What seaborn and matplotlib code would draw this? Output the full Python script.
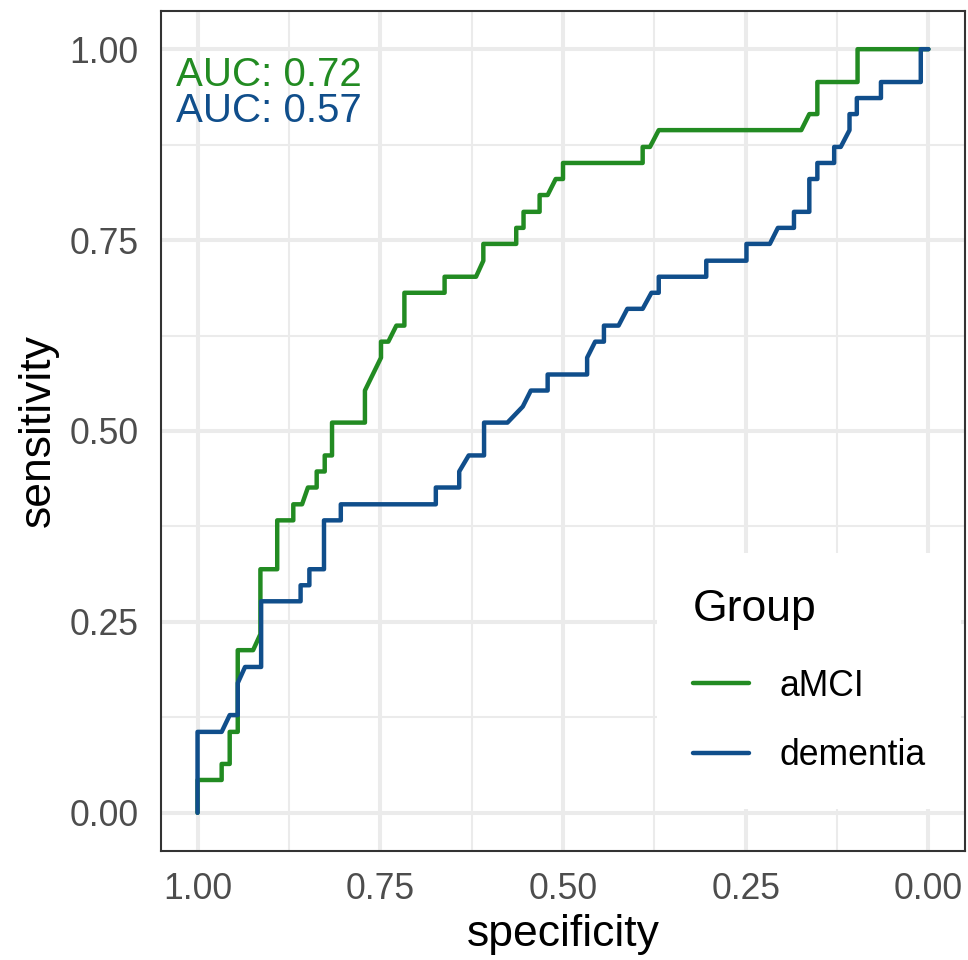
import numpy as np
import pandas as pd
import matplotlib
matplotlib.use("Agg")
import matplotlib.pyplot as plt
from matplotlib.ticker import MultipleLocator
import seaborn as sns

# ==========================================
# Datos (curvas ROC)
# ==========================================
groups = ["aMCI", "dementia"]
auc_values = [0.72, 0.57]
colors = ["#228B22", "#104E8B"]

amci_spec = [1.000, 1.000, 0.967, 0.967, 0.956, 0.956, 0.945, 0.945, 0.924, 0.914,
             0.914, 0.891, 0.891, 0.869, 0.869, 0.857, 0.849, 0.837, 0.837, 0.826,
             0.826, 0.816, 0.816, 0.771, 0.771, 0.749, 0.749, 0.739, 0.728, 0.717,
             0.717, 0.662, 0.662, 0.619, 0.609, 0.609, 0.564, 0.564, 0.554, 0.554,
             0.532, 0.532, 0.521, 0.510, 0.500, 0.500, 0.391, 0.391, 0.381, 0.369,
             0.174, 0.163, 0.152, 0.152, 0.097, 0.097, 0.000]
amci_sens = [0.000, 0.043, 0.043, 0.064, 0.064, 0.106, 0.106, 0.213, 0.213, 0.234,
             0.319, 0.319, 0.383, 0.383, 0.404, 0.404, 0.426, 0.426, 0.447, 0.447,
             0.468, 0.468, 0.511, 0.511, 0.553, 0.596, 0.617, 0.617, 0.638, 0.638,
             0.681, 0.681, 0.702, 0.702, 0.723, 0.745, 0.745, 0.766, 0.766, 0.787,
             0.787, 0.809, 0.809, 0.830, 0.830, 0.851, 0.851, 0.872, 0.872, 0.894,
             0.894, 0.915, 0.915, 0.957, 0.957, 1.000, 1.000]

dem_spec = [1.000, 1.000, 0.967, 0.956, 0.945, 0.945, 0.935, 0.913, 0.913, 0.859,
            0.859, 0.847, 0.847, 0.827, 0.827, 0.804, 0.804, 0.674, 0.674, 0.642,
            0.642, 0.629, 0.608, 0.608, 0.576, 0.555, 0.544, 0.521, 0.521, 0.467,
            0.467, 0.456, 0.444, 0.444, 0.424, 0.412, 0.391, 0.379, 0.369, 0.369,
            0.304, 0.304, 0.249, 0.249, 0.217, 0.206, 0.184, 0.184, 0.163, 0.163,
            0.152, 0.152, 0.129, 0.129, 0.120, 0.108, 0.108, 0.098, 0.098, 0.065,
            0.065, 0.0105, 0.0105, 0.000]
dem_sens = [0.000, 0.106, 0.106, 0.128, 0.128, 0.170, 0.191, 0.191, 0.277, 0.277,
            0.298, 0.298, 0.319, 0.319, 0.383, 0.383, 0.404, 0.404, 0.426, 0.426,
            0.447, 0.468, 0.468, 0.511, 0.511, 0.532, 0.553, 0.553, 0.574, 0.574,
            0.596, 0.617, 0.617, 0.638, 0.638, 0.660, 0.660, 0.681, 0.681, 0.702,
            0.702, 0.723, 0.723, 0.745, 0.745, 0.766, 0.766, 0.787, 0.787, 0.830,
            0.830, 0.851, 0.851, 0.872, 0.872, 0.894, 0.915, 0.915, 0.936, 0.936,
            0.957, 0.957, 1.000, 1.000]

tick_vals = [1.00, 0.75, 0.50, 0.25, 0.00]
tick_labels = ["1.00", "0.75", "0.50", "0.25", "0.00"]

# ==========================================
# Tabla larga para seaborn
# ==========================================
df = pd.concat([
    pd.DataFrame({"specificity": amci_spec, "sensitivity": amci_sens, "Group": groups[0]}),
    pd.DataFrame({"specificity": dem_spec, "sensitivity": dem_sens, "Group": groups[1]}),
], ignore_index=True)

sns.set_style("white")
plt.rcParams["font.family"] = ["Liberation Sans", "DejaVu Sans"]

fig = plt.figure(figsize=(9.68, 9.6), dpi=100)
ax = fig.add_axes([161 / 968, 1 - 851 / 960, 804 / 968, 840 / 960])

sns.lineplot(data=df, x="specificity", y="sensitivity", hue="Group",
             palette=dict(zip(groups, colors)), estimator=None, sort=False,
             units="Group", linewidth=3.2, ax=ax, legend=True)

# Ejes tipo ggplot (theme_bw)
ax.set_xlim(1.05, -0.05)
ax.set_ylim(-0.05, 1.05)
ax.set_xticks(tick_vals)
ax.set_xticklabels(tick_labels)
ax.set_yticks(tick_vals)
ax.set_yticklabels(tick_labels)
ax.xaxis.set_minor_locator(MultipleLocator(0.125))
ax.yaxis.set_minor_locator(MultipleLocator(0.125))
ax.grid(which="major", color="#EBEBEB", linewidth=2.9)
ax.grid(which="minor", color="#EBEBEB", linewidth=1.45)
ax.set_axisbelow(True)
ax.tick_params(which="major", length=8, width=2.0, color="#333333",
               labelsize=25.6, labelcolor="#4D4D4D")
ax.tick_params(axis="x", which="major", pad=7)
ax.tick_params(axis="y", which="major", pad=8)
ax.tick_params(which="minor", length=0)
for s in ax.spines.values():
    s.set_color("#333333")
    s.set_linewidth(1.5)

ax.set_xlabel("specificity", fontsize=32, color="black", labelpad=5)
ax.set_ylabel("sensitivity", fontsize=32, color="black", labelpad=8)

# Anotaciones AUC
for i, (auc, col) in enumerate(zip(auc_values, colors)):
    ax.text(1.03, 0.952 - i * 0.048, f"AUC: {auc:.2f}", color=col, fontsize=29,
            ha="left", va="baseline")

# Leyenda dentro del panel
handles, labels = ax.get_legend_handles_labels()
leg = ax.legend(handles, labels, title="Group", loc="upper left",
                bbox_to_anchor=((657 - 161) / 804, (851 - 553) / 840),
                borderaxespad=0, frameon=True, fancybox=False, framealpha=1,
                fontsize=25.6, title_fontsize=32, handlelength=1.6,
                handletextpad=0.84, labelspacing=0.98, borderpad=1.0,
                alignment="left")
leg._legend_box.sep = 0.98 * 25.6 + 3
leg.get_frame().set_facecolor("white")
leg.get_frame().set_edgecolor("none")
leg.get_title().set_color("black")
for t in leg.get_texts():
    t.set_color("black")
for line in leg.get_lines():
    line.set_linewidth(3.2)

fig.savefig("out.png", dpi=100)
